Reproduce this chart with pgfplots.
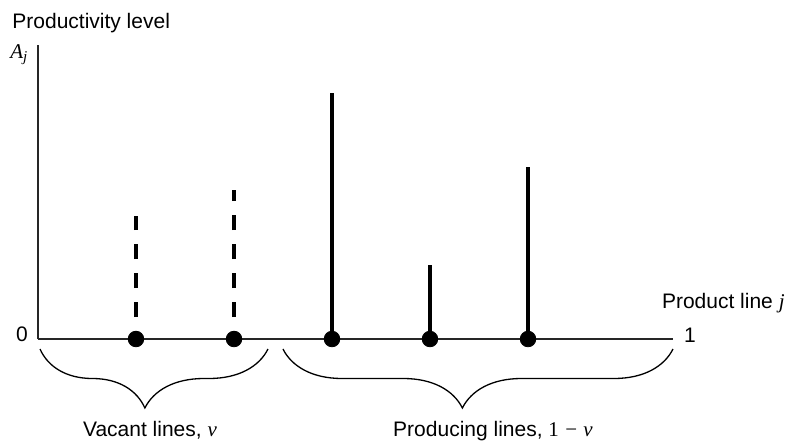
\documentclass[border=0pt]{standalone}
\usepackage{fontspec}
\setmainfont{Liberation Sans}
\newfontfamily\tms{Liberation Serif}
\usepackage{pgfplots}
\pgfplotsset{compat=1.18}
\usetikzlibrary{decorations.pathreplacing}

% stems: x position on [0,1], height in the axis' own units (0..294)
\pgfplotstableread{
x      h
0.1543 123
0.3087 149
}\vacant
\pgfplotstableread{
x      h
0.4630 246
0.6173 74
0.7717 172
}\producing

\begin{document}
\begin{tikzpicture}[font=\fontsize{10.5}{12.6}\selectfont]
\begin{axis}[
    at={(0,0)}, anchor=origin,
    scale only axis,
    width=317.5pt, height=147pt,
    xmin=0, xmax=1, ymin=0, ymax=294,
    axis lines=left,
    axis line style={-, line width=0.6pt, black!85},
    xtick=\empty, ytick=\empty,
    clip=false,
]
\addplot[ycomb, black, line width=1.55pt, no marks,
    dash pattern=on 7.5pt off 7pt, dash phase=3.5pt] table[x=x, y=h] {\vacant};
\addplot[ycomb, black, line width=1.55pt, no marks] table[x=x, y=h] {\producing};
\addplot[only marks, mark=*, mark size=3.9pt, black] coordinates {
    (0.1543,0) (0.3087,0) (0.4630,0) (0.6173,0) (0.7717,0)};
\draw[decorate, decoration={brace, mirror, amplitude=29.5pt, aspect=0.46},
    line width=0.65pt] (axis cs:0.00315,-10) -- (axis cs:0.3622,-10);
\draw[decorate, decoration={brace, mirror, amplitude=29.5pt, aspect=0.46},
    line width=0.65pt] (axis cs:0.3858,-10) -- (axis cs:1,-10);
\end{axis}
\node[anchor=base west, inner sep=0pt] at (-13pt,155.5pt) {Productivity level};
\node[anchor=base west, inner sep=0pt] at (-14pt,140.5pt)
    {{\tms\itshape A}\raisebox{-0.35ex}{\fontsize{7.5}{9}\selectfont\tms\itshape j}};
\node[inner sep=0pt] at (-8pt,2.5pt) {0};
\node[inner sep=0pt] at (326pt,2pt) {1};
\node[anchor=base east, inner sep=0pt] at (373.5pt,15.5pt) {Product line {\tms\itshape j}};
\node[anchor=base, inner sep=0pt] at (56pt,-48.5pt) {Vacant lines, {\tms\itshape v}};
\node[anchor=base, inner sep=0pt] at (227.5pt,-48.5pt)
    {Producing lines, {\tms 1\hspace{0.3em}−\hspace{0.3em}\itshape v}};
\pgfresetboundingbox
\useasboundingbox (-19pt,-51pt) rectangle (375.5pt,169.5pt);
\end{tikzpicture}
\end{document}
